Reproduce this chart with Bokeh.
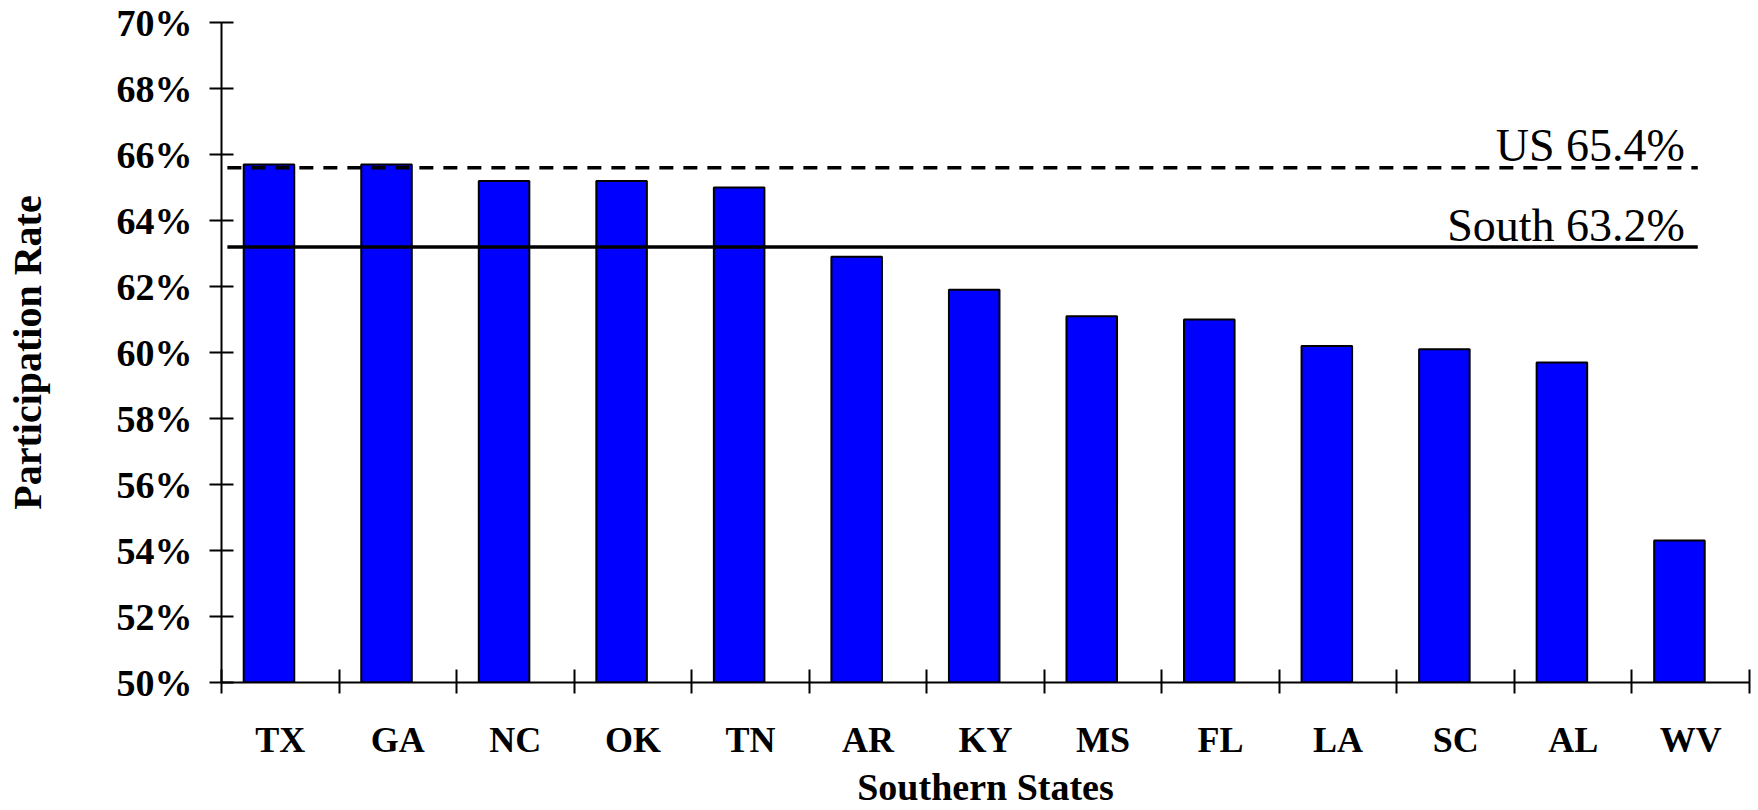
from bokeh.plotting import figure
from bokeh.models import Range1d, FixedTicker
from bokeh.core.properties import value
from bokeh.embed import file_html
from bokeh.resources import INLINE

# ---- data ----
states = ["TX", "GA", "NC", "OK", "TN", "AR", "KY", "MS", "FL", "LA", "SC", "AL", "WV"]
rates = [65.7, 65.7, 65.2, 65.2, 65.0, 62.9, 61.9, 61.1, 61.0, 60.2, 60.1, 59.7, 54.3]
y_ticks = [50, 52, 54, 56, 58, 60, 62, 64, 66, 68, 70]
y_tick_labels = ["50%", "52%", "54%", "56%", "58%", "60%", "62%", "64%", "66%", "68%", "70%"]
us_rate = 65.6          # where the dashed line is drawn
us_label = "US 65.4%"
south_rate = 63.2
south_label = "South 63.2%"
x_title = "Southern States"
y_title = "Participation Rate"

FONT = "Liberation Serif"
n = len(states)

p = figure(width=1758, height=810, output_backend="svg", toolbar_location=None,
           x_range=Range1d(0, n), y_range=Range1d(y_ticks[0], y_ticks[-1]),
           min_border_left=221, min_border_right=9, min_border_top=22, min_border_bottom=128)
p.outline_line_color = None
p.xgrid.visible = False
p.ygrid.visible = False
p.background_fill_color = "white"
p.border_fill_color = "white"

# bars (shifted slightly left of category centre, as in the reference)
bar_x = [i + 0.404 for i in range(n)]
p.vbar(x=bar_x, top=rates, bottom=y_ticks[0], width=0.43,
       fill_color="#0000FF", line_color="black", line_width=2)

# reference lines
x_start, x_end = 0.05, 12.56
p.segment(x0=[x_start], y0=[us_rate], x1=[x_end], y1=[us_rate],
          line_color="black", line_width=3.5, line_dash="14 10")
p.segment(x0=[x_start], y0=[south_rate], x1=[x_end], y1=[south_rate],
          line_color="black", line_width=3.5)

text_x = x_end - 0.11
text_gap = 0.66
p.text(x=[text_x, text_x], y=[us_rate + text_gap, south_rate + text_gap],
       text=[us_label, south_label], text_align="right", text_baseline="alphabetic",
       text_font=value(FONT), text_font_size="46px", text_color="black")

# x axis: ticks at category boundaries, labels at centres
xax = p.xaxis[0]
xax.ticker = FixedTicker(ticks=[i + 0.5 for i in range(n)], minor_ticks=list(range(n + 1)))
xax.major_label_overrides = {i + 0.5: s for i, s in enumerate(states)}
xax.major_tick_in = 0
xax.major_tick_out = 0
xax.minor_tick_in = 13
xax.minor_tick_out = 11
xax.minor_tick_line_width = 2
xax.minor_tick_line_color = "black"
xax.axis_line_width = 2
xax.axis_line_color = "black"
xax.major_label_standoff = 26
xax.major_label_text_font = FONT
xax.major_label_text_font_style = "bold"
xax.major_label_text_font_size = "36px"
xax.major_label_text_color = "black"
xax.axis_label = x_title
xax.axis_label_standoff = 3
xax.axis_label_text_font = FONT
xax.axis_label_text_font_style = "bold"
xax.axis_label_text_font_size = "38px"
xax.axis_label_text_color = "black"

yax = p.yaxis[0]
yax.ticker = FixedTicker(ticks=y_ticks, minor_ticks=[])
yax.major_label_overrides = {t: l for t, l in zip(y_ticks, y_tick_labels)}
yax.major_tick_in = 12
yax.major_tick_out = 12
yax.major_tick_line_width = 2
yax.major_tick_line_color = "black"
yax.minor_tick_in = 0
yax.minor_tick_out = 0
yax.axis_line_width = 2
yax.axis_line_color = "black"
yax.major_label_standoff = 17
yax.major_label_text_font = FONT
yax.major_label_text_font_style = "bold"
yax.major_label_text_font_size = "38px"
yax.major_label_text_color = "black"
yax.axis_label = y_title
yax.axis_label_standoff = 64
yax.axis_label_text_font = FONT
yax.axis_label_text_font_style = "bold"
yax.axis_label_text_font_size = "40px"
yax.axis_label_text_color = "black"

open("out.html", "w").write(file_html(p, INLINE))
